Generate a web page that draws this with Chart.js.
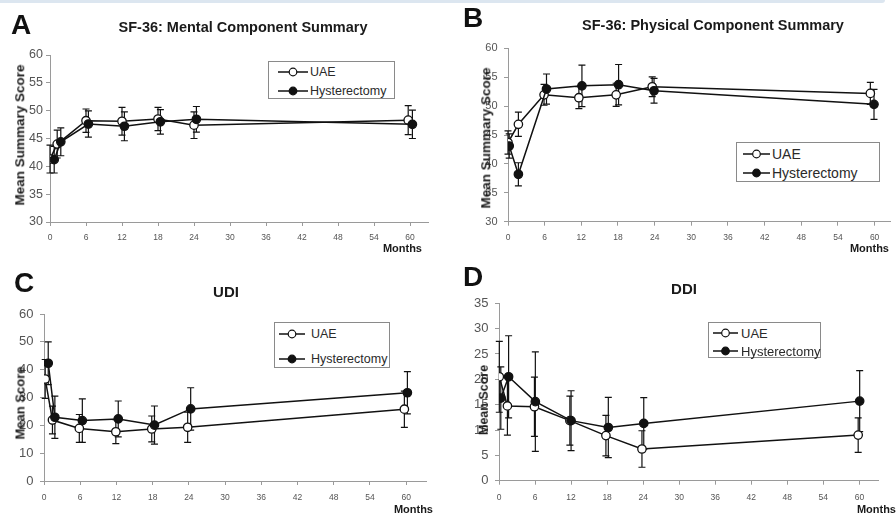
<!DOCTYPE html>
<html><head><meta charset="utf-8">
<script src="https://cdn.jsdelivr.net/npm/chart.js@4/dist/chart.umd.min.js"></script>
<style>
body{margin:0;width:896px;height:517px;position:relative;background:#fff;overflow:hidden;font-family:"Liberation Sans",Arial,sans-serif;}
canvas{position:absolute;}
.t{position:absolute;white-space:nowrap;line-height:1;}
.c{transform:translate(-50%,-50%);}
.b{font-weight:bold;color:#1a1a1a;}
.lg{position:absolute;border:1px solid #8a8a8a;background:#fff;box-sizing:border-box;}
.topbar{position:absolute;left:0;top:0;width:885px;height:3px;background:#dce6f0;border-bottom-right-radius:3px;}
</style></head>
<body>
<div class="topbar"></div>
<script>
// ---------- data ----------
const monthStep = 6;
const seriesNames = ['UAE', 'Hysterectomy'];

// A: SF-36 Mental Component Summary
const mcsUaeMonths  = [0, 1.2, 6, 12, 18, 24, 59.7];
const mcsUae        = [41.3, 44.0, 48.2, 48.1, 48.5, 47.4, 48.3];
const mcsUaeErr     = [2.5, 2.5, 2.1, 2.5, 2.1, 2.4, 2.6];
const mcsHystMonths = [0.7, 1.8, 6.4, 12.4, 18.4, 24.4, 60.4];
const mcsHyst       = [41.2, 44.4, 47.6, 47.2, 48.0, 48.45, 47.55];
const mcsHystErr    = [2.4, 2.5, 2.35, 2.6, 2.2, 2.3, 2.55];

// B: SF-36 Physical Component Summary
const pcsUaeMonths  = [0, 1.7, 5.9, 11.6, 17.7, 23.6, 59.3];
const pcsUae        = [43.7, 46.85, 51.95, 51.45, 51.95, 53.35, 52.2];
const pcsUaeErr     = [2.0, 2.1, 1.8, 1.9, 2.0, 1.7, 1.9];
const pcsHystMonths = [0.2, 1.7, 6.3, 12.1, 18.1, 23.9, 59.9];
const pcsHyst       = [43.1, 38.2, 52.95, 53.5, 53.7, 52.65, 50.3];
const pcsHystErr    = [2.1, 2.0, 2.6, 3.6, 3.5, 2.15, 2.6];

// C: UDI
const udiUaeMonths  = [0.2, 1.4, 5.85, 11.9, 17.85, 23.8, 59.7];
const udiUae        = [36.65, 21.9, 18.9, 17.7, 18.7, 19.3, 25.8];
const udiUaeErr     = [7.0, 5.0, 5.0, 4.3, 4.65, 5.4, 6.5];
const udiHystMonths = [0.7, 1.8, 6.35, 12.3, 18.3, 24.3, 60.2];
const udiHyst       = [42.3, 22.9, 21.7, 22.3, 20.1, 25.9, 31.7];
const udiHystErr    = [7.7, 7.6, 7.8, 6.45, 6.85, 7.6, 7.6];

// D: DDI
const ddiUaeMonths  = [0.05, 1.4, 5.9, 11.8, 17.8, 23.8, 59.8];
const ddiUae        = [20.5, 14.75, 14.6, 11.85, 8.9, 6.25, 9.0];
const ddiUaeErr     = [7.0, 5.75, 5.85, 4.85, 4.0, 3.6, 3.4];
const ddiHystMonths = [0.3, 1.6, 6.05, 12.0, 18.2, 24.1, 60.05];
const ddiHyst       = [16.3, 20.5, 15.6, 11.85, 10.5, 11.3, 15.7];
const ddiHystErr    = [6.15, 8.1, 9.8, 5.9, 5.95, 5.1, 6.0];

// ---------- rendering ----------
Chart.defaults.font.family = '"Liberation Sans", Arial, sans-serif';

const errorBarPlugin = {
  id: 'errbars',
  beforeDatasetsDraw(chart) {
    const ctx = chart.ctx, ys = chart.scales.y;
    chart.data.datasets.forEach((ds, di) => {
      const meta = chart.getDatasetMeta(di);
      ctx.save();
      ctx.strokeStyle = '#111'; ctx.lineWidth = 1.2;
      meta.data.forEach((pt, i) => {
        const v = ds.data[i].y, e = ds.errors[i];
        const yt = ys.getPixelForValue(v + e), yb = ys.getPixelForValue(v - e);
        const x = pt.x, w = 3.5;
        ctx.beginPath();
        ctx.moveTo(x, yt); ctx.lineTo(x, yb);
        ctx.moveTo(x - w, yt); ctx.lineTo(x + w, yt);
        ctx.moveTo(x - w, yb); ctx.lineTo(x + w, yb);
        ctx.stroke();
      });
      ctx.restore();
    });
  }
};

function addText(txt, x, y, cls, style) {
  const d = document.createElement('div');
  d.className = 't ' + cls;
  d.textContent = txt;
  d.style.left = x + 'px'; d.style.top = y + 'px';
  Object.assign(d.style, style || {});
  document.body.appendChild(d);
  return d;
}

function addLegend(L) {
  const box = document.createElement('div');
  box.className = 'lg';
  box.style.left = L.x + 'px'; box.style.top = L.y + 'px';
  box.style.width = L.w + 'px'; box.style.height = L.h + 'px';
  document.body.appendChild(box);
  seriesNames.forEach((name, i) => {
    const ry = L.rows[i];
    const svgNS = 'http://www.w3.org/2000/svg';
    const svg = document.createElementNS(svgNS, 'svg');
    const w = L.x2 - L.x1;
    svg.setAttribute('width', w); svg.setAttribute('height', 12);
    svg.style.position = 'absolute';
    svg.style.left = L.x1 + 'px'; svg.style.top = (ry - 6) + 'px';
    const ln = document.createElementNS(svgNS, 'line');
    ln.setAttribute('x1', 0); ln.setAttribute('x2', w);
    ln.setAttribute('y1', 6); ln.setAttribute('y2', 6);
    ln.setAttribute('stroke', '#111'); ln.setAttribute('stroke-width', 1.5);
    svg.appendChild(ln);
    const c = document.createElementNS(svgNS, 'circle');
    c.setAttribute('cx', w / 2); c.setAttribute('cy', 6); c.setAttribute('r', 3.8);
    c.setAttribute('fill', i === 0 ? '#fff' : '#111');
    c.setAttribute('stroke', '#111'); c.setAttribute('stroke-width', 1.2);
    svg.appendChild(c);
    document.body.appendChild(svg);
    addText(name, L.tx, ry, '', {transform: 'translateY(-50%)', fontSize: L.fs + 'px', color: '#2a2a2a'});
  });
}

function makePanel(p) {
  const [cx, cy, cw, ch] = p.box;
  const cv = document.createElement('canvas');
  cv.width = cw; cv.height = ch;
  cv.style.left = cx + 'px'; cv.style.top = cy + 'px';
  cv.style.width = cw + 'px'; cv.style.height = ch + 'px';
  document.body.appendChild(cv);
  const yw = p.L - cx, xh = 30;
  const mk = (months, vals) => months.map((m, i) => ({x: m, y: vals[i]}));
  new Chart(cv, {
    type: 'scatter',
    data: {datasets: [
      {label: seriesNames[0], data: mk(p.uaeM, p.uae), errors: p.uaeE, showLine: true,
       borderColor: '#111', borderWidth: 1.5, pointRadius: 4.2, pointHoverRadius: 4.2,
       pointBackgroundColor: '#fff', pointBorderColor: '#111', pointBorderWidth: 1.3, order: 1},
      {label: seriesNames[1], data: mk(p.hysM, p.hys), errors: p.hysE, showLine: true,
       borderColor: '#111', borderWidth: 1.5, pointRadius: 4.2, pointHoverRadius: 4.2,
       pointBackgroundColor: '#111', pointBorderColor: '#111', pointBorderWidth: 1.3, order: 0}
    ]},
    options: {
      responsive: false, animation: false, devicePixelRatio: 1,
      layout: {padding: {left: 0, top: p.T - cy, right: cw - (p.R - cx), bottom: ch - (p.B - cy) - xh}},
      plugins: {legend: {display: false}, tooltip: {enabled: false}},
      events: [],
      scales: {
        x: {type: 'linear', min: 0, max: p.xmax,
            afterFit: s => { s.height = xh; },
            ticks: {stepSize: monthStep, includeBounds: false, autoSkip: false, maxRotation: 0,
                    font: {size: 8.5}, color: '#555', padding: p.xpad},
            grid: {drawOnChartArea: false, drawTicks: true, tickLength: 4, color: '#9a9a9a'},
            border: {color: '#9a9a9a', width: 1}},
        y: {min: p.ymin, max: p.ymax,
            afterFit: s => { s.width = yw; },
            ticks: {stepSize: p.ystep, font: {size: p.yfs}, color: '#555', padding: p.ypad},
            grid: {drawOnChartArea: false, drawTicks: true, tickLength: 4, color: '#9a9a9a'},
            border: {color: '#9a9a9a', width: 1}}
      }
    },
    plugins: [errorBarPlugin]
  });
  addText(p.letter, p.letterPos[0], p.letterPos[1], 'c b', {fontSize: '28px', color: '#111'});
  addText(p.title, p.titlePos[0], p.titlePos[1], 'c b', {fontSize: p.tfs + 'px'});
  addText(p.ytitle, p.ytPos[0], p.ytPos[1], 'b', {fontSize: p.ytfs + 'px', transform: 'translate(-50%,-50%) rotate(-90deg)'});
  addText('Months', p.monthsPos[0], p.monthsPos[1], 'b', {fontSize: '11px', transform: 'translate(-100%,-50%)'});
  addLegend(p.legend);
}

makePanel({box: [0, 0, 448, 260], L: 50, R: 428, T: 55, B: 222, xmax: 63, ymin: 30, ymax: 60, ystep: 5, yfs: 12.5, ypad: 3, xpad: 6.5,
  uaeM: mcsUaeMonths, uae: mcsUae, uaeE: mcsUaeErr, hysM: mcsHystMonths, hys: mcsHyst, hysE: mcsHystErr,
  letter: 'A', letterPos: [21, 25], title: 'SF-36: Mental Component Summary', titlePos: [243, 27], tfs: 14.5,
  ytitle: 'Mean Summary Score', ytPos: [20, 135], ytfs: 13.5, monthsPos: [422, 248],
  legend: {x: 268, y: 61, w: 127, h: 38, rows: [72, 91], x1: 278, x2: 308, tx: 310, fs: 12.5}});

makePanel({box: [448, 0, 448, 260], L: 508, R: 893, T: 48.3, B: 221.7, xmax: 62.6, ymin: 30, ymax: 60, ystep: 5, yfs: 11, ypad: 6.5, xpad: 6.5,
  uaeM: pcsUaeMonths, uae: pcsUae, uaeE: pcsUaeErr, hysM: pcsHystMonths, hys: pcsHyst, hysE: pcsHystErr,
  letter: 'B', letterPos: [473, 18], title: 'SF-36: Physical Component Summary', titlePos: [713, 25], tfs: 14.5,
  ytitle: 'Mean Summary Score', ytPos: [486, 138], ytfs: 13.5, monthsPos: [889, 248],
  legend: {x: 736, y: 142, w: 144, h: 40, rows: [154, 173], x1: 743, x2: 770, tx: 772, fs: 14}});

makePanel({box: [0, 260, 448, 257], L: 44, R: 426.7, T: 314, B: 481, xmax: 63.4, ymin: 0, ymax: 60, ystep: 10, yfs: 13, ypad: 6.5, xpad: 7.5,
  uaeM: udiUaeMonths, uae: udiUae, uaeE: udiUaeErr, hysM: udiHystMonths, hys: udiHyst, hysE: udiHystErr,
  letter: 'C', letterPos: [24, 283], title: 'UDI', titlePos: [226, 291], tfs: 15,
  ytitle: 'Mean Score', ytPos: [20, 403], ytfs: 13, monthsPos: [433, 509],
  legend: {x: 274, y: 322, w: 116, h: 46, rows: [334, 359], x1: 279, x2: 305, tx: 311, fs: 12.5}});

makePanel({box: [448, 260, 448, 257], L: 499, R: 878, T: 303.3, B: 480.7, xmax: 63.1, ymin: 0, ymax: 35, ystep: 5, yfs: 13, ypad: 6.5, xpad: 7.5,
  uaeM: ddiUaeMonths, uae: ddiUae, uaeE: ddiUaeErr, hysM: ddiHystMonths, hys: ddiHyst, hysE: ddiHystErr,
  letter: 'D', letterPos: [473, 277], title: 'DDI', titlePos: [684, 288], tfs: 15,
  ytitle: 'Mean Score', ytPos: [484, 400], ytfs: 12.5, monthsPos: [896, 509],
  legend: {x: 708, y: 322, w: 113, h: 36, rows: [333, 351], x1: 713, x2: 738, tx: 741, fs: 13}});
</script>
</body></html>
